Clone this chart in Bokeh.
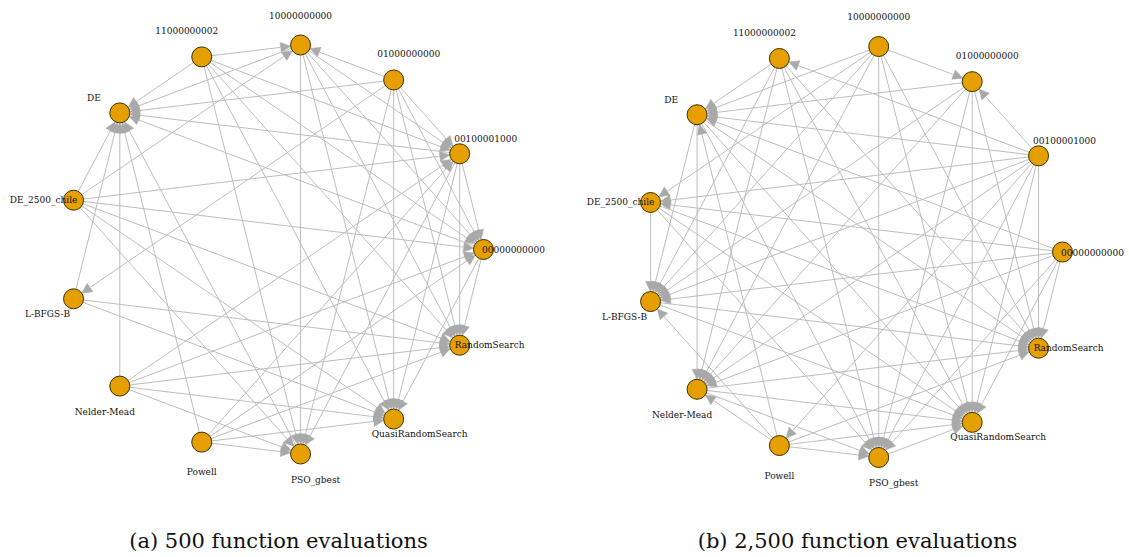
import numpy as np
from bokeh.plotting import figure
from bokeh.models import ColumnDataSource, Arrow, NormalHead, Label
from bokeh.layouts import row
from bokeh.embed import file_html
from bokeh.resources import INLINE
from bokeh.core.properties import value

# node names in layout order (igraph circle layout, alphabetical)
nodes = ["00000000000", "00100001000", "01000000000", "10000000000",
         "11000000002", "DE", "DE_2500_chile", "L-BFGS-B", "Nelder-Mead",
         "Powell", "PSO_gbest", "QuasiRandomSearch", "RandomSearch"]

# (a) 500 function evaluations: directed edges (from, to)
edges_a = [
    ("11000000002", "10000000000"), ("11000000002", "DE"), ("11000000002", "00100001000"),
    ("11000000002", "00000000000"), ("11000000002", "RandomSearch"),
    ("11000000002", "QuasiRandomSearch"), ("11000000002", "PSO_gbest"),
    ("01000000000", "10000000000"), ("01000000000", "00100001000"), ("01000000000", "00000000000"),
    ("01000000000", "RandomSearch"), ("01000000000", "QuasiRandomSearch"),
    ("01000000000", "PSO_gbest"), ("01000000000", "L-BFGS-B"), ("01000000000", "DE"),
    ("DE_2500_chile", "10000000000"), ("DE_2500_chile", "DE"), ("DE_2500_chile", "00100001000"),
    ("DE_2500_chile", "00000000000"), ("DE_2500_chile", "RandomSearch"),
    ("DE_2500_chile", "QuasiRandomSearch"), ("DE_2500_chile", "PSO_gbest"),
    ("10000000000", "DE"), ("10000000000", "00100001000"), ("10000000000", "00000000000"),
    ("10000000000", "RandomSearch"), ("10000000000", "QuasiRandomSearch"), ("10000000000", "PSO_gbest"),
    ("Nelder-Mead", "DE"), ("Nelder-Mead", "00100001000"), ("Nelder-Mead", "00000000000"),
    ("Nelder-Mead", "RandomSearch"), ("Nelder-Mead", "QuasiRandomSearch"), ("Nelder-Mead", "PSO_gbest"),
    ("Powell", "DE"), ("Powell", "00100001000"), ("Powell", "00000000000"),
    ("Powell", "RandomSearch"), ("Powell", "QuasiRandomSearch"), ("Powell", "PSO_gbest"),
    ("00100001000", "00000000000"), ("00100001000", "RandomSearch"),
    ("00100001000", "QuasiRandomSearch"), ("00100001000", "PSO_gbest"), ("00100001000", "DE"),
    ("00000000000", "RandomSearch"), ("00000000000", "QuasiRandomSearch"), ("00000000000", "DE"),
    ("L-BFGS-B", "DE"), ("L-BFGS-B", "RandomSearch"), ("L-BFGS-B", "QuasiRandomSearch"),
    ("PSO_gbest", "DE"),
]

# (b) 2,500 function evaluations: directed edges (from, to)
edges_b = [
    ("10000000000", "01000000000"), ("10000000000", "DE_2500_chile"), ("10000000000", "DE"),
    ("10000000000", "L-BFGS-B"), ("10000000000", "Nelder-Mead"), ("10000000000", "PSO_gbest"),
    ("10000000000", "QuasiRandomSearch"), ("10000000000", "RandomSearch"),
    ("00100001000", "01000000000"), ("00100001000", "11000000002"), ("00100001000", "Powell"),
    ("00100001000", "DE"), ("00100001000", "DE_2500_chile"), ("00100001000", "L-BFGS-B"),
    ("00100001000", "Nelder-Mead"), ("00100001000", "PSO_gbest"),
    ("00100001000", "QuasiRandomSearch"), ("00100001000", "RandomSearch"),
    ("00000000000", "DE"), ("00000000000", "DE_2500_chile"), ("00000000000", "L-BFGS-B"),
    ("00000000000", "Nelder-Mead"), ("00000000000", "PSO_gbest"),
    ("00000000000", "QuasiRandomSearch"), ("00000000000", "RandomSearch"),
    ("01000000000", "DE"), ("01000000000", "L-BFGS-B"), ("01000000000", "Nelder-Mead"),
    ("01000000000", "PSO_gbest"), ("01000000000", "QuasiRandomSearch"), ("01000000000", "RandomSearch"),
    ("11000000002", "DE"), ("11000000002", "L-BFGS-B"), ("11000000002", "PSO_gbest"),
    ("11000000002", "QuasiRandomSearch"), ("11000000002", "RandomSearch"), ("11000000002", "Nelder-Mead"),
    ("Powell", "PSO_gbest"), ("Powell", "Nelder-Mead"), ("Powell", "L-BFGS-B"), ("Powell", "DE"),
    ("Powell", "QuasiRandomSearch"), ("Powell", "RandomSearch"),
    ("DE", "L-BFGS-B"), ("DE", "Nelder-Mead"), ("DE", "QuasiRandomSearch"),
    ("DE", "RandomSearch"), ("DE", "PSO_gbest"),
    ("DE_2500_chile", "L-BFGS-B"), ("DE_2500_chile", "QuasiRandomSearch"),
    ("DE_2500_chile", "RandomSearch"), ("DE_2500_chile", "PSO_gbest"),
    ("L-BFGS-B", "QuasiRandomSearch"), ("L-BFGS-B", "RandomSearch"),
    ("Nelder-Mead", "QuasiRandomSearch"), ("Nelder-Mead", "RandomSearch"), ("Nelder-Mead", "PSO_gbest"),
    ("PSO_gbest", "QuasiRandomSearch"),
]

caption_a = "(a) 500 function evaluations"
caption_b = "(b) 2,500 function evaluations"

H = 557
NODE_R = 10
EDGE_COLOR = "#bdbdbd"
HEAD_COLOR = "#a9a9a9"
NODE_COLOR = "#E69F00"
LABEL_FONT = "DejaVu Serif"
CAPTION_FONT = "DejaVu Serif"


def make_panel(edges, caption, W, cx, cy, rx, ry, cap_dx):
    p = figure(width=W, height=H, x_range=(-cx, W - cx), y_range=(-(H - cy), cy),
               output_backend="svg", toolbar_location=None, min_border=0,
               x_axis_location=None, y_axis_location=None)
    p.grid.visible = False
    p.outline_line_color = None
    p.background_fill_color = "white"

    n = len(nodes)
    ang = 2 * np.pi * np.arange(n) / n
    px = rx * np.cos(ang)
    py = ry * np.sin(ang)
    pos = {name: (px[i], py[i]) for i, name in enumerate(nodes)}

    xs, ys, xe, ye = [], [], [], []
    for s, t in edges:
        x0, y0 = pos[s]
        x1, y1 = pos[t]
        dx, dy = x1 - x0, y1 - y0
        L = np.hypot(dx, dy)
        ux, uy = dx / L, dy / L
        xs.append(x0 + NODE_R * ux)
        ys.append(y0 + NODE_R * uy)
        xe.append(x1 - NODE_R * ux)
        ye.append(y1 - NODE_R * uy)
    esrc = ColumnDataSource(dict(xs=xs, ys=ys, xe=xe, ye=ye))
    arr = Arrow(end=NormalHead(size=10, fill_color=HEAD_COLOR, line_color=HEAD_COLOR, line_width=0.5),
                x_start="xs", y_start="ys", x_end="xe", y_end="ye", source=esrc,
                line_color=EDGE_COLOR, line_width=1, level="underlay")
    p.add_layout(arr)

    nsrc = ColumnDataSource(dict(x=px, y=py, name=nodes))
    p.scatter("x", "y", source=nsrc, size=2 * NODE_R, fill_color=NODE_COLOR,
              line_color="#3a3000", line_width=1)

    lang = 2 * np.pi * np.arange(n) / (n - 1)
    lsrc = ColumnDataSource(dict(x=px, y=py, name=nodes,
                                 xo=30 * np.cos(lang), yo=-30 * np.sin(lang)))
    p.text("x", "y", text="name", source=lsrc, x_offset="xo", y_offset="yo",
           text_align="center", text_baseline="middle",
           text_font=value(LABEL_FONT), text_font_size="9px", text_color="#111111")

    p.add_layout(Label(x=cap_dx, y=cy - 540, text=caption, text_align="center",
                       text_baseline="middle", text_font=CAPTION_FONT,
                       text_font_size="21px", text_color="#111111"))
    return p


pa = make_panel(edges_a, caption_a, W=564, cx=275, cy=249, rx=208, ry=206, cap_dx=3)
pb = make_panel(edges_b, caption_b, W=565, cx=289, cy=251.5, rx=209, ry=207, cap_dx=4)

layout = row(pa, pb)
open("out.html", "w").write(file_html(layout, INLINE))
